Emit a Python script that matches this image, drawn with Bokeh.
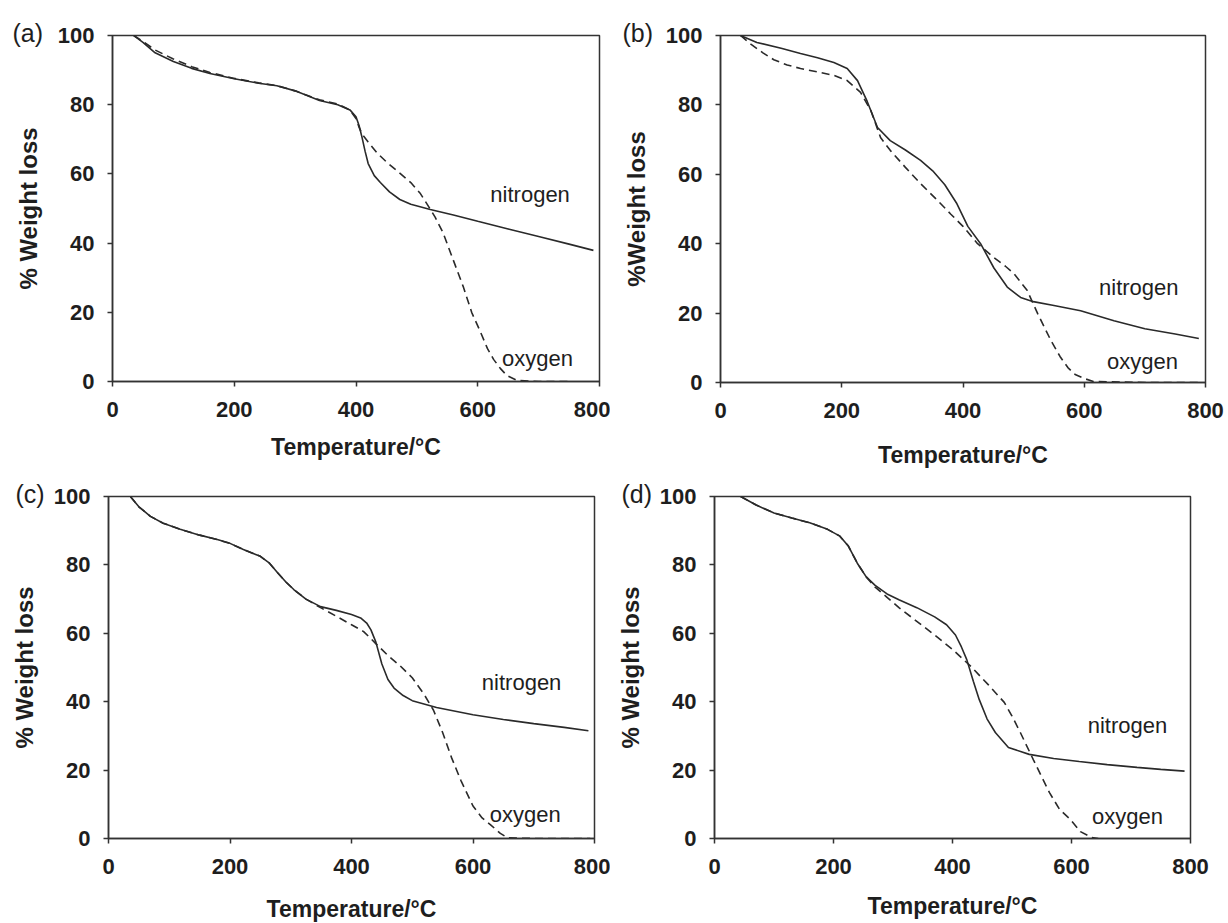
from bokeh.plotting import figure
from bokeh.models import Range1d, FixedTicker, Label, Title
from bokeh.layouts import column, row
from bokeh.embed import file_html
from bokeh.resources import INLINE

# ---------------- data ----------------
x_ticks = [0, 200, 400, 600, 800]
y_ticks = [0, 20, 40, 60, 80, 100]

# panel (a)
a_n_T = [35, 50, 70, 100, 130, 160, 200, 240, 270, 300, 340, 370, 390, 400, 405, 410, 415, 420, 430, 440, 455, 472, 490, 522, 560, 600, 650, 700, 750, 790]
a_n_W = [100, 98, 95, 92.5, 90.5, 89, 87.5, 86.2, 85.5, 84, 81.2, 80, 78.5, 76.5, 74, 70.5, 66.5, 63, 59.5, 57.5, 54.8, 52.6, 51.2, 49.7, 48.1, 46.3, 44.1, 41.9, 39.7, 37.9]
a_o_T = [35, 50, 70, 100, 130, 160, 200, 240, 270, 300, 340, 370, 390, 400, 405, 410, 420, 435, 451, 470, 490, 505, 516, 530, 543, 560, 576, 590, 604, 616, 626, 637, 648, 665, 700, 752]
a_o_W = [100, 98.3, 95.8, 93.2, 91, 89.3, 87.6, 86.3, 85.5, 84, 81.4, 80.2, 78.5, 76, 73.5, 71.5, 69.2, 66, 63.3, 60.5, 57.5, 54.5, 51.5, 47.5, 43, 35, 27.5, 20, 14.5, 9.5, 6.4, 3.8, 1.7, 0.3, 0, 0]

# panel (b)
b_n_T = [33, 60, 100, 132, 160, 187, 209, 226, 242, 259, 280, 305, 330, 350, 370, 390, 408, 429, 451, 473, 495, 516, 550, 594, 649, 700, 750, 789]
b_n_W = [100, 98, 96.3, 94.8, 93.6, 92.2, 90.5, 87, 81, 73.5, 69.7, 67, 64, 61, 57, 51.5, 45, 40, 33, 27.5, 24.5, 23.3, 22.2, 20.7, 17.8, 15.5, 14, 12.7]
b_o_T = [33, 50, 70, 88, 110, 132, 160, 187, 209, 231, 248, 264, 280, 305, 330, 355, 380, 400, 424, 451, 470, 484, 506, 523, 545, 560, 573, 585, 599, 615, 700, 789]
b_o_W = [100, 97.5, 95, 93, 91.5, 90.5, 89.5, 88.5, 87, 83.6, 78.4, 70.6, 66.9, 62, 57.3, 53, 48.5, 45, 40, 36, 33.5, 31.4, 26.5, 19.9, 12.1, 7.5, 4.3, 2.3, 1.2, 0.3, 0, 0]

# panel (c)
c_n_T = [36, 50, 69, 90, 118, 150, 179, 200, 222, 250, 265, 278, 292, 305, 325, 349, 375, 400, 415, 425, 432, 440, 450, 460, 470, 485, 500, 540, 600, 650, 700, 750, 790]
c_n_W = [100, 97, 94.2, 92.2, 90.4, 88.7, 87.4, 86.3, 84.5, 82.5, 80.5, 77.8, 75, 72.8, 70, 67.8, 66.7, 65.5, 64.5, 63, 61, 57.5, 51, 46.5, 44, 41.8, 40.3, 38.3, 36.2, 34.8, 33.6, 32.5, 31.5]
c_o_T = [36, 50, 69, 90, 118, 150, 179, 200, 222, 250, 265, 278, 292, 305, 325, 349, 375, 400, 420, 440, 460, 480, 500, 520, 535, 550, 565, 580, 600, 615, 629, 645, 657, 700, 793]
c_o_W = [100, 97, 94.2, 92.2, 90.4, 88.7, 87.4, 86.3, 84.5, 82.5, 80.5, 77.8, 75, 72.8, 70, 67.5, 65, 62.5, 60.5, 57, 53.5, 50.5, 47, 42, 37.5, 31, 23.5, 17, 9.5, 6, 4, 1.5, 0.2, 0, 0]

# panel (d)
d_n_T = [44, 70, 100, 130, 160, 190, 210, 225, 240, 255, 270, 290, 310, 340, 370, 390, 405, 415, 424, 435, 445, 458, 472, 494, 529, 570, 613, 660, 710, 750, 790]
d_n_W = [100, 97.5, 95.2, 93.7, 92.3, 90.4, 88.5, 85.5, 80.5, 76.5, 74, 71.5, 69.8, 67.5, 64.8, 62.5, 59.5, 56, 52.3, 46, 40.6, 35, 31, 26.6, 24.6, 23.4, 22.5, 21.6, 20.8, 20.2, 19.7]
d_o_T = [44, 70, 100, 130, 160, 190, 210, 225, 240, 255, 270, 290, 310, 340, 370, 400, 431, 460, 487, 500, 514, 536, 550, 563, 580, 598, 615, 634, 645]
d_o_W = [100, 97.5, 95.2, 93.7, 92.3, 90.4, 88.5, 85.5, 80.5, 76.5, 73.5, 70.5, 67.5, 63.5, 59.5, 55.3, 50.3, 45, 39.8, 35.8, 31, 23, 18, 13.4, 8.5, 5.6, 2, 0.3, 0]

panel_tags = ["(a)", "(b)", "(c)", "(d)"]
y_titles = ["% Weight loss", "%Weight loss", "% Weight loss", "% Weight loss"]
x_title = "Temperature/\u00b0C"
series_names = ["nitrogen", "oxygen"]
# annotation positions in data units (T, W)
n_label_pos = [(686, 54), (690, 27.4), (680, 45.6), (694, 33)]
o_label_pos = [(698, 6.6), (696, 6), (686, 7), (694, 6.4)]

FONT = "Liberation Sans"
INK = "#1e1e1e"
LINE = "#2a2a2a"


def make_panel(i, nT, nW, oT, oW, fw, fh, bl, br, bt, bb, tag_off, xt_stand):
    p = figure(frame_width=fw, frame_height=fh,
               min_border_left=bl, min_border_right=br,
               min_border_top=bt, min_border_bottom=bb,
               x_range=Range1d(0, 800), y_range=Range1d(0, 100),
               output_backend="svg", toolbar_location=None)
    p.grid.visible = False
    p.background_fill_color = "white"
    p.border_fill_color = "white"
    p.outline_line_color = "#333333"
    p.outline_line_width = 1.5
    p.outline_line_alpha = 1.0

    for ax in (p.xaxis, p.yaxis):
        ax.axis_line_color = "#333333"
        ax.axis_line_width = 1.5
        ax.major_tick_line_color = "#333333"
        ax.major_tick_line_width = 1.5
        ax.major_tick_out = 5
        ax.major_tick_in = 0
        ax.minor_tick_line_color = None
        ax.major_label_text_font = FONT
        ax.major_label_text_font_style = "bold"
        ax.major_label_text_font_size = "22px"
        ax.major_label_text_color = INK
        ax.axis_label_text_font = FONT
        ax.axis_label_text_font_style = "bold"
        ax.axis_label_text_color = INK
    p.xaxis.major_label_standoff = 15
    p.yaxis.major_label_standoff = 13
    p.xaxis.ticker = FixedTicker(ticks=x_ticks)
    p.yaxis.ticker = FixedTicker(ticks=y_ticks)

    p.yaxis.axis_label = y_titles[i]
    p.yaxis.axis_label_text_font_size = "24px"
    p.yaxis.axis_label_standoff = 13

    p.xaxis.axis_label = x_title
    p.xaxis.axis_label_text_font_size = "23px"
    p.xaxis.axis_label_standoff = xt_stand

    p.line(nT, nW, line_color=LINE, line_width=1.6)
    p.line(oT, oW, line_color=LINE, line_width=1.6, line_dash="8 5")

    # panel tag, level with the top of the frame
    p.add_layout(Title(text=panel_tags[i], align="left", offset=tag_off,
                       vertical_align="bottom", standoff=-23,
                       text_font=FONT, text_font_style="normal",
                       text_font_size="25px", text_color=INK), "above")
    # series names
    nx, ny = n_label_pos[i]
    ox, oy = o_label_pos[i]
    p.add_layout(Label(x=nx, y=ny, text=series_names[0], text_font=FONT,
                       text_font_size="22px", text_color=INK,
                       text_align="center", text_baseline="middle"))
    p.add_layout(Label(x=ox, y=oy, text=series_names[1], text_font=FONT,
                       text_font_size="22px", text_color=INK,
                       text_align="center", text_baseline="middle"))
    return p


pa = make_panel(0, a_n_T, a_n_W, a_o_T, a_o_W, 487, 346, 112, 11, 33, 91, -100, 14)
pb = make_panel(1, b_n_T, b_n_W, b_o_T, b_o_W, 485, 347, 110, 20, 35, 88, -98, 21)
pc = make_panel(2, c_n_T, c_n_W, c_o_T, c_o_W, 486, 342, 108, 16, 26, 84, -93, 19)
pd = make_panel(3, d_n_T, d_n_W, d_o_T, d_o_W, 476, 342, 104, 35, 26, 84, -93, 16)

layout = column(row(pa, pb), row(pc, pd))
open("out.html", "w").write(file_html(layout, INLINE))
